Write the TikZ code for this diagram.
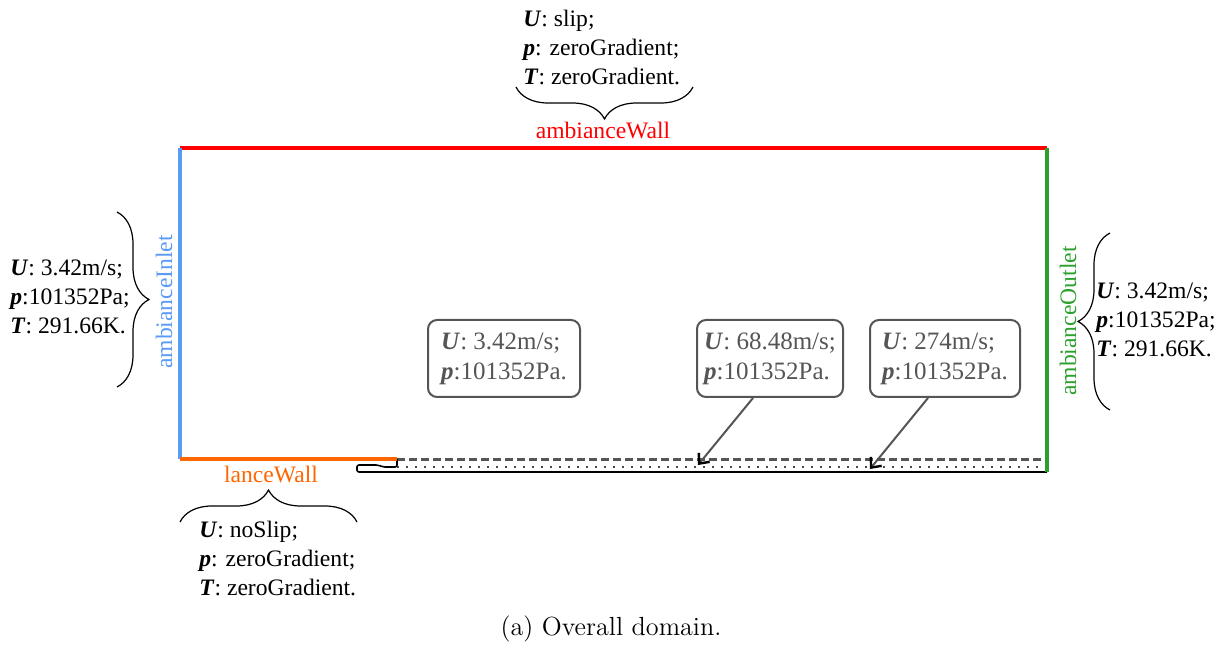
\documentclass[tikz,border=0pt]{standalone}
\usepackage{fontspec}
\newfontfamily\tms{Liberation Serif}
\usetikzlibrary{decorations.pathreplacing,arrows.meta}
\definecolor{wallred}{HTML}{FF0000}
\definecolor{wallblue}{HTML}{5B9AF5}
\definecolor{wallgreen}{HTML}{2CA02C}
\definecolor{wallorange}{HTML}{FF6600}
\definecolor{boxgray}{HTML}{555555}
\newcommand{\bvar}[1]{\textbf{\textit{#1}}}
\begin{document}
\begin{tikzpicture}[x=0.5pt,y=-0.5pt,
  bc/.style={font=\tms\fontsize{11.8}{14.5}\selectfont, align=left, inner sep=0pt},
  wl/.style={font=\tms\fontsize{11.8}{14.5}\selectfont, inner sep=0pt},
  bx/.style={draw=boxgray, line width=1pt, rounded corners=4.5pt, text=boxgray,
     font=\tms\fontsize{12.5}{15}\selectfont, align=left, minimum height=38.5pt, inner xsep=0pt},
  brc/.style={decorate, decoration={brace, amplitude=16pt}, line width=0.6pt},
  arr/.style={draw=boxgray, line width=1pt, -{Straight Barb[length=4pt,width=7pt,black,line width=1.2pt]}},
  wall/.style={line width=2pt}
  ]
\useasboundingbox (0,0) rectangle (1227,646);
% corner coordinates
\coordinate (A) at (180,148);
\coordinate (B) at (1047,148);
\coordinate (C) at (1047,472);
\coordinate (D) at (180,459);
\coordinate (E) at (397,459);
\coordinate (F) at (1047,460);
\coordinate (G) at (397,467);
\coordinate (H) at (1047,467);
% lance lines
\draw[boxgray, line width=1.5pt, dash pattern=on 4pt off 2pt] (397,460) -- (F);
\draw[boxgray!85!black, line width=1.3pt, dash pattern=on 1.1pt off 3.4pt] (G) -- (H);
\draw[black, line width=0.8pt, rounded corners=1pt] (397,459) -- (397,467) -- (383,467) -- (378,465) -- (357,465) -- (357,472) -- (C);
% walls
\draw[wall, wallred] (A) -- (B);
\draw[wall, wallblue] (A) -- (D);
\draw[wall, wallgreen] (B) -- (C);
\draw[wall, wallorange] (D) -- (E);
% wall labels
\node[wl, text=wallred] (lwall) at (603,130) {ambianceWall};
\node[wl, text=wallblue, rotate=90] (linlet) at (164,302) {ambianceInlet};
\node[wl, text=wallgreen, rotate=90] (loutlet) at (1068,321) {ambianceOutlet};
\node[wl, text=wallorange] (llance) at (271,474) {lanceWall};
% braces
\draw[brc] (693,87) -- (516,87);
\draw[brc] (117,212) -- (117,387);
\draw[brc] (1110,410) -- (1110,233);
\draw[brc] (180,522) -- (357,522);
% condition texts
\node[bc, anchor=west] (ctop) at (523,47) {\bvar{U}: slip;\\ \bvar{p}: zeroGradient;\\ \bvar{T}: zeroGradient.};
\node[bc, anchor=west] (cleft) at (10,297) {\bvar{U}: 3.42m/s;\\ \bvar{p}:101352Pa;\\ \bvar{T}: 291.66K.};
\node[bc, anchor=west] (cright) at (1096,320) {\bvar{U}: 3.42m/s;\\ \bvar{p}:101352Pa;\\ \bvar{T}: 291.66K.};
\node[bc, anchor=west] (cbot) at (199,558) {\bvar{U}: noSlip;\\ \bvar{p}: zeroGradient;\\ \bvar{T}: zeroGradient.};
% boxes
\node[bx, minimum width=76pt] (b1) at (504,358.5) {\bvar{U}: 3.42m/s;\\ \bvar{p}:101352Pa.};
\node[bx, minimum width=73pt] (b2) at (770,358.5) {\bvar{U}: 68.48m/s;\\ \bvar{p}:101352Pa.};
\node[bx, minimum width=75pt] (b3) at (945,358.5) {\bvar{U}: 274m/s;\\ \bvar{p}:101352Pa.};
\coordinate (t1) at (698,465);
\coordinate (t2) at (870,469);
\draw[arr] ([xshift=-8.5pt]b2.south) -- (t1);
\draw[arr] ([xshift=-8.5pt]b3.south) -- (t2);
% caption
\node[font=\fontsize{13.1}{15}\selectfont, inner sep=0pt] (cap) at (611,629) {(a) Overall domain.};
\end{tikzpicture}
\end{document}
